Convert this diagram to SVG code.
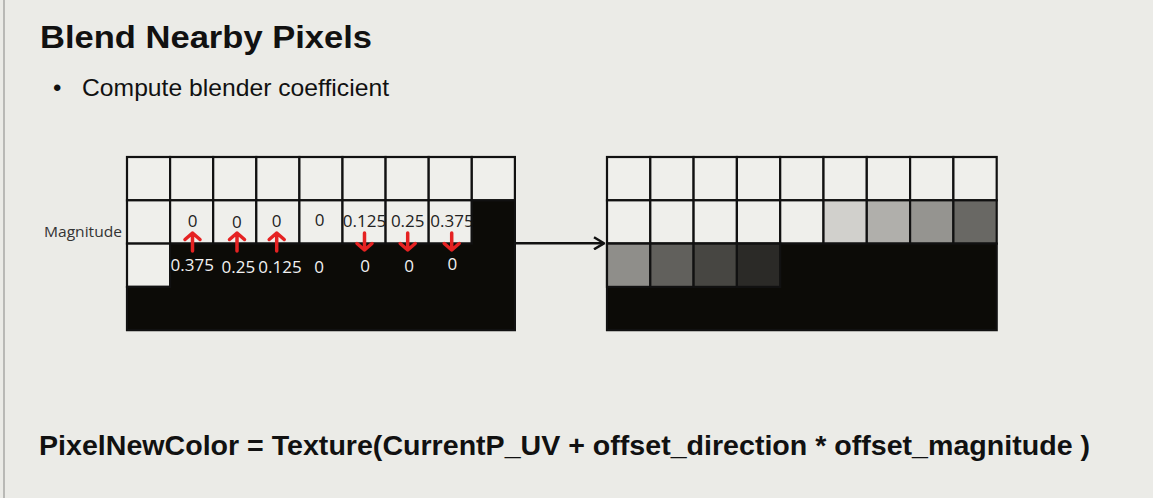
<svg xmlns="http://www.w3.org/2000/svg" width="1153" height="498" viewBox="0 0 1153 498">
<style>
.bg{fill:#ebebe7}
.cell{fill:#efefeb;stroke:#111;stroke-width:2.2}
.blk{fill:#0c0b07;stroke:#111;stroke-width:2.2}
.num{font-family:"Open Sans","Noto Sans",sans-serif;font-size:17px;text-anchor:middle}
.dk{fill:#222}
.wt{fill:#f2f2f2}
.red{fill:none;stroke:#e52222;stroke-width:3.5;stroke-linecap:round;stroke-linejoin:round}
.title{font-family:"Liberation Sans",Arial,sans-serif;font-weight:bold;fill:#111}
.body{font-family:"Liberation Sans",Arial,sans-serif;fill:#111}
</style>
<defs>
<marker id="ah" viewBox="0 0 12 14" refX="11" refY="7" markerWidth="12" markerHeight="14" markerUnits="userSpaceOnUse" orient="auto">
<path d="M1,1 L11,7 L1,13" fill="none" stroke="#111" stroke-width="2.5"/>
</marker>
</defs>
<rect class="bg" x="0" y="0" width="1153" height="498"/>
<line x1="4" y1="0" x2="4" y2="498" stroke="#a9a9a6" stroke-width="1.5"/>

<g id="title">
<text class="title" x="40" y="48" font-size="32" textLength="332" lengthAdjust="spacingAndGlyphs">Blend Nearby Pixels</text>
</g>
<g id="bullet">
<text class="body" x="53" y="96" font-size="24">•</text>
<text class="body" x="82" y="96" font-size="24" textLength="307" lengthAdjust="spacingAndGlyphs">Compute blender coefficient</text>
</g>

<g id="left-grid">
<rect class="cell" x="127" y="157" width="43.1" height="43.3"/>
<rect class="cell" x="170.1" y="157" width="43.1" height="43.3"/>
<rect class="cell" x="213.2" y="157" width="43.1" height="43.3"/>
<rect class="cell" x="256.3" y="157" width="43.1" height="43.3"/>
<rect class="cell" x="299.4" y="157" width="43.1" height="43.3"/>
<rect class="cell" x="342.5" y="157" width="43.1" height="43.3"/>
<rect class="cell" x="385.6" y="157" width="43.1" height="43.3"/>
<rect class="cell" x="428.7" y="157" width="43.1" height="43.3"/>
<rect class="cell" x="471.8" y="157" width="43.1" height="43.3"/>
<rect class="cell" x="127" y="200.3" width="43.1" height="43.3"/>
<rect class="cell" x="170.1" y="200.3" width="43.1" height="43.3"/>
<rect class="cell" x="213.2" y="200.3" width="43.1" height="43.3"/>
<rect class="cell" x="256.3" y="200.3" width="43.1" height="43.3"/>
<rect class="cell" x="299.4" y="200.3" width="43.1" height="43.3"/>
<rect class="cell" x="342.5" y="200.3" width="43.1" height="43.3"/>
<rect class="cell" x="385.6" y="200.3" width="43.1" height="43.3"/>
<rect class="cell" x="428.7" y="200.3" width="43.1" height="43.3"/>
<rect class="cell" x="127" y="243.6" width="43.1" height="43.3"/>
<text class="num dk" x="192.5" y="227">0</text>
<text class="num dk" x="236.8" y="228">0</text>
<text class="num dk" x="276.7" y="227">0</text>
<text class="num dk" x="319.5" y="226">0</text>
<text class="num dk" x="364.5" y="227">0.125</text>
<text class="num dk" x="407.7" y="227">0.25</text>
<text class="num dk" x="452" y="227">0.375</text>
<path class="blk" d="M471.8,200.3 H514.9 V330.2 H127 V286.9 H170.1 V243.6 H471.8 Z"/>
<text class="num wt" x="192.2" y="271">0.375</text>
<text class="num wt" x="238.3" y="273">0.25</text>
<text class="num wt" x="280" y="273">0.125</text>
<text class="num wt" x="319" y="273">0</text>
<text class="num wt" x="365" y="272">0</text>
<text class="num wt" x="409" y="272">0</text>
<text class="num wt" x="452.3" y="270">0</text>
</g>

<g id="magnitude-label">
<text x="44" y="237" font-family="'Open Sans','Noto Sans',sans-serif" font-size="15" fill="#333" textLength="78" lengthAdjust="spacingAndGlyphs">Magnitude</text>
</g>

<g id="red-arrows">
<path class="red" d="M192.5,251 V233 M185,239.5 L192.5,233 L200,239.5"/>
<path class="red" d="M237,251 V233 M229.5,239.5 L237,233 L244.5,239.5"/>
<path class="red" d="M276.7,251 V233 M269.2,239.5 L276.7,233 L284.2,239.5"/>
<path class="red" d="M364.5,233 V250 M357,243.5 L364.5,250 L372,243.5"/>
<path class="red" d="M407.7,233 V250 M400.2,243.5 L407.7,250 L415.2,243.5"/>
<path class="red" d="M451.7,233 V250 M444.2,243.5 L451.7,250 L459.2,243.5"/>
</g>

<g id="right-grid">
<rect class="cell" x="607" y="157" width="43.3" height="43.3"/>
<rect class="cell" x="650.3" y="157" width="43.3" height="43.3"/>
<rect class="cell" x="693.6" y="157" width="43.3" height="43.3"/>
<rect class="cell" x="736.9" y="157" width="43.3" height="43.3"/>
<rect class="cell" x="780.2" y="157" width="43.3" height="43.3"/>
<rect class="cell" x="823.5" y="157" width="43.3" height="43.3"/>
<rect class="cell" x="866.8" y="157" width="43.3" height="43.3"/>
<rect class="cell" x="910.1" y="157" width="43.3" height="43.3"/>
<rect class="cell" x="953.4" y="157" width="43.3" height="43.3"/>
<rect class="cell" x="607" y="200.3" width="43.3" height="43.3"/>
<rect class="cell" x="650.3" y="200.3" width="43.3" height="43.3"/>
<rect class="cell" x="693.6" y="200.3" width="43.3" height="43.3"/>
<rect class="cell" x="736.9" y="200.3" width="43.3" height="43.3"/>
<rect class="cell" x="780.2" y="200.3" width="43.3" height="43.3"/>
<rect class="cell" x="823.5" y="200.3" width="43.3" height="43.3" style="fill:#d1d0cc"/>
<rect class="cell" x="866.8" y="200.3" width="43.3" height="43.3" style="fill:#b0afab"/>
<rect class="cell" x="910.1" y="200.3" width="43.3" height="43.3" style="fill:#959490"/>
<rect class="cell" x="953.4" y="200.3" width="43.3" height="43.3" style="fill:#696864"/>
<path class="blk" d="M607,243.6 H996.7 V330.2 H607 Z"/>
<rect class="cell" x="607" y="243.6" width="43.3" height="43.3" style="fill:#8f8e8a"/>
<rect class="cell" x="650.3" y="243.6" width="43.3" height="43.3" style="fill:#61605c"/>
<rect class="cell" x="693.6" y="243.6" width="43.3" height="43.3" style="fill:#474642"/>
<rect class="cell" x="736.9" y="243.6" width="43.3" height="43.3" style="fill:#2b2a27"/>
</g>

<g id="connectors">
<line x1="515" y1="243.3" x2="604" y2="243.3" stroke="#111" stroke-width="2.5" marker-end="url(#ah)"/>
</g>

<g id="formula">
<text class="title" x="39" y="455" font-size="28.5" textLength="1051" lengthAdjust="spacingAndGlyphs">PixelNewColor = Texture(CurrentP_UV + offset_direction * offset_magnitude )</text>
</g>
</svg>
